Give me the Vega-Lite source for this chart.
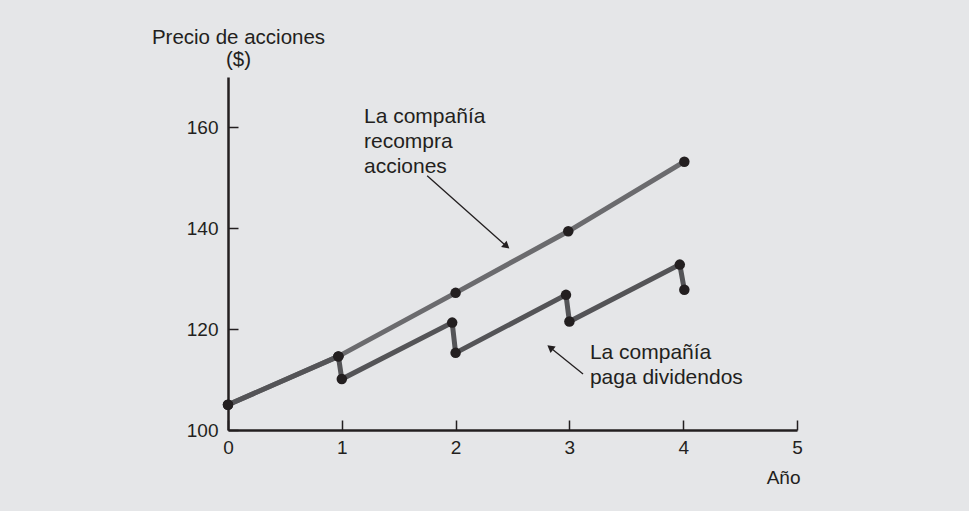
{
  "$schema": "https://vega.github.io/schema/vega-lite/v6.json",
  "autosize": "none",
  "width": 569,
  "height": 353,
  "padding": {"left": 228, "top": 77, "right": 172, "bottom": 81},
  "background": "#e5e6e8",
  "config": {
    "view": {"stroke": null},
    "font": "Liberation Sans",
    "axis": {
      "domainColor": "#231f20",
      "domainWidth": 2.5,
      "tickColor": "#231f20",
      "tickWidth": 1.5,
      "grid": false,
      "labelFont": "Liberation Sans",
      "labelFontSize": 19,
      "labelColor": "#231f20",
      "labelFlush": false,
      "labelOverlap": false,
      "titleFont": "Liberation Sans",
      "titleFontSize": 19,
      "titleFontWeight": "normal",
      "titleColor": "#231f20"
    }
  },
  "datasets": {
    "precios": [
      {"serie": "recompra", "orden": 0, "anio": 0, "precio": 105},
      {"serie": "recompra", "orden": 1, "anio": 0.97, "precio": 114.6},
      {"serie": "recompra", "orden": 2, "anio": 2.0, "precio": 127.2},
      {"serie": "recompra", "orden": 3, "anio": 2.99, "precio": 139.4},
      {"serie": "recompra", "orden": 4, "anio": 4.01, "precio": 153.2},
      {"serie": "dividendos", "orden": 0, "anio": 0, "precio": 105},
      {"serie": "dividendos", "orden": 1, "anio": 0.97, "precio": 114.6},
      {"serie": "dividendos", "orden": 2, "anio": 1.0, "precio": 110.1},
      {"serie": "dividendos", "orden": 3, "anio": 1.97, "precio": 121.3},
      {"serie": "dividendos", "orden": 4, "anio": 2.0, "precio": 115.3},
      {"serie": "dividendos", "orden": 5, "anio": 2.97, "precio": 126.8},
      {"serie": "dividendos", "orden": 6, "anio": 3.0, "precio": 121.5},
      {"serie": "dividendos", "orden": 7, "anio": 3.97, "precio": 132.8},
      {"serie": "dividendos", "orden": 8, "anio": 4.01, "precio": 127.8}
    ]
  },
  "layer": [
    {
      "data": {"name": "precios"},
      "mark": {"type": "line", "strokeWidth": 5, "strokeCap": "butt", "strokeJoin": "miter"},
      "encoding": {
        "x": {
          "field": "anio", "type": "quantitative",
          "scale": {"domain": [0, 5], "nice": false, "zero": false},
          "axis": {
            "values": [0, 1, 2, 3, 4, 5],
            "format": "d",
            "tickSize": -10,
            "labelPadding": 18,
            "title": "Año",
            "titleAnchor": "end",
            "titleAlign": "right",
            "titleBaseline": "middle",
            "titleX": 572,
            "titleY": 47
          }
        },
        "y": {
          "field": "precio", "type": "quantitative",
          "scale": {"domain": [100, 170], "nice": false, "zero": false},
          "axis": {
            "values": [100, 120, 140, 160],
            "format": "d",
            "tickSize": -10,
            "labelPadding": 20,
            "title": ["Precio de acciones", "($)"],
            "titleFontSize": 20.5,
            "titleAngle": 0,
            "titleAlign": "center",
            "titleBaseline": "top",
            "titleX": 10,
            "titleY": -50,
            "titleLineHeight": 22
          }
        },
        "detail": {"field": "serie"},
        "order": {"field": "orden"},
        "color": {
          "field": "serie", "type": "nominal", "legend": null,
          "scale": {"domain": ["recompra", "dividendos"], "range": ["#6b6b6e", "#545457"]}
        }
      }
    },
    {
      "data": {"name": "precios"},
      "mark": {"type": "point", "filled": true, "size": 110, "opacity": 1, "color": "#231f20"},
      "encoding": {
        "x": {"field": "anio", "type": "quantitative"},
        "y": {"field": "precio", "type": "quantitative"}
      }
    },
    {
      "data": {"values": [
        {"x": 1.195, "y": 162.1, "texto": ["La compañía", "recompra", "acciones"]},
        {"x": 3.18, "y": 115.3, "texto": ["La compañía", "paga dividendos"]}
      ]},
      "mark": {"type": "text", "align": "left", "baseline": "middle", "fontSize": 21, "lineHeight": 25, "color": "#231f20", "font": "Liberation Sans"},
      "encoding": {
        "x": {"field": "x", "type": "quantitative"},
        "y": {"field": "y", "type": "quantitative"},
        "text": {"field": "texto"}
      }
    },
    {
      "data": {"values": [
        {"x": 1.75, "y": 150.4, "x2": 2.43, "y2": 136.8},
        {"x": 3.12, "y": 111.1, "x2": 2.85, "y2": 116.0}
      ]},
      "mark": {"type": "rule", "strokeWidth": 1.3, "color": "#231f20"},
      "encoding": {
        "x": {"field": "x", "type": "quantitative"},
        "y": {"field": "y", "type": "quantitative"},
        "x2": {"field": "x2"},
        "y2": {"field": "y2"}
      }
    },
    {
      "data": {"values": [{"x": 2.44, "y": 136.6}]},
      "mark": {"type": "point", "shape": "triangle", "filled": true, "size": 70, "angle": 131, "opacity": 1, "color": "#231f20"},
      "encoding": {
        "x": {"field": "x", "type": "quantitative"},
        "y": {"field": "y", "type": "quantitative"}
      }
    },
    {
      "data": {"values": [{"x": 2.84, "y": 116.2}]},
      "mark": {"type": "point", "shape": "triangle", "filled": true, "size": 70, "angle": 308, "opacity": 1, "color": "#231f20"},
      "encoding": {
        "x": {"field": "x", "type": "quantitative"},
        "y": {"field": "y", "type": "quantitative"}
      }
    }
  ]
}
